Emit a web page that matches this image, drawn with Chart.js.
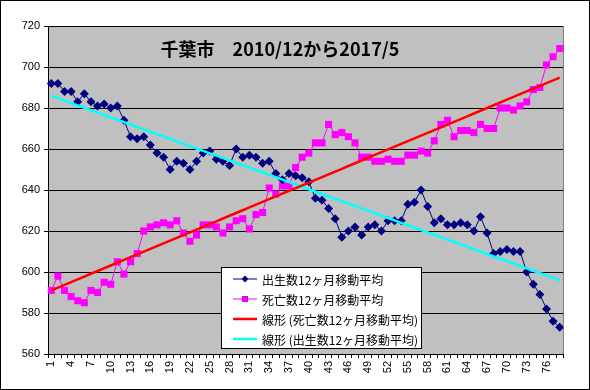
<!DOCTYPE html>
<html>
<head>
<meta charset="utf-8">
<script src="https://cdn.jsdelivr.net/npm/chart.js@4.4.1/dist/chart.umd.min.js"></script>
<style>
  html, body { margin: 0; padding: 0; background: #fff; }
  #wrap { width: 590px; height: 390px; position: relative; }
</style>
</head>
<body>
<div id="wrap"><canvas id="myChart"></canvas></div>
<script>
// months since 2010/12 (1..78)
var months = Array.from({ length: 78 }, function (_, i) { return String(i + 1); });

// 出生数12ヶ月移動平均
var births = [
  692, 692, 688, 688, 683, 687, 683, 681, 682, 680,
  681, 674, 666, 665, 666, 662, 658, 656, 650, 654,
  653, 650, 654, 658, 659, 655, 654, 652, 660, 656,
  657, 656, 653, 654, 648, 645, 648, 647, 646, 644,
  636, 635, 631, 626, 617, 620, 622, 618, 622, 623,
  620, 625, 625, 625, 633, 634, 640, 632, 624, 626,
  623, 623, 624, 623, 620, 627, 619, 609, 610, 611,
  610, 610, 600, 594, 589, 582, 576, 573
];

// 死亡数12ヶ月移動平均
var deaths = [
  591, 598, 591, 588, 586, 585, 591, 590, 595, 594,
  605, 599, 605, 609, 620, 622, 623, 624, 623, 625,
  619, 615, 618, 623, 623, 622, 619, 622, 625, 626,
  621, 628, 629, 641, 638, 642, 642, 651, 656, 658,
  663, 663, 672, 667, 668, 666, 663, 656, 656, 654,
  654, 655, 654, 654, 657, 657, 659, 658, 664, 672,
  674, 666, 669, 669, 668, 672, 670, 670, 680, 680,
  679, 681, 683, 689, 690, 701, 705, 709
];

var yMin = 560, yMax = 720, yStep = 20;

// linear trendline, like Excel's 線形近似
function linearTrend(values) {
  var n = values.length, sx = 0, sy = 0, sxy = 0, sxx = 0;
  for (var i = 0; i < n; i++) {
    var x = i + 1;
    sx += x; sy += values[i]; sxy += x * values[i]; sxx += x * x;
  }
  var slope = (n * sxy - sx * sy) / (n * sxx - sx * sx);
  var icpt = (sy - slope * sx) / n;
  return values.map(function (v, i) { return icpt + slope * (i + 1); });
}

var FONT = '"Liberation Sans", Arial, sans-serif';
var JFONT = '"Noto Sans CJK JP", sans-serif';

var frame = {
  id: 'frame',
  beforeDraw: function (chart) {
    var c = chart.ctx, a = chart.chartArea;
    c.save();
    c.fillStyle = '#fff';
    c.fillRect(0, 0, chart.width, chart.height);
    c.fillStyle = '#c0c0c0';
    c.fillRect(a.left, a.top, a.right - a.left, a.bottom - a.top);
    c.restore();
  },
  afterDraw: function (chart) {
    var c = chart.ctx, a = chart.chartArea;
    c.save();
    // plot area right edge
    c.strokeStyle = '#808080';
    c.lineWidth = 1;
    c.beginPath();
    c.moveTo(Math.round(a.right) + 0.5, a.top);
    c.lineTo(Math.round(a.right) + 0.5, a.bottom);
    c.stroke();
    // outer border
    c.strokeStyle = '#000';
    c.strokeRect(0.5, 0.5, chart.width - 1, chart.height - 1);

    // title
    c.fillStyle = '#000';
    c.font = 'bold 18px ' + JFONT;
    c.textAlign = 'center';
    c.textBaseline = 'alphabetic';
    c.fillText('千葉市　2010/12から2017/5', 280, 56);

    // legend box
    var bx = 221, by = 267, bw = 200, bh = 81;
    c.fillStyle = '#fff';
    c.fillRect(bx, by, bw, bh);
    c.strokeStyle = '#000';
    c.strokeRect(bx + 0.5, by + 0.5, bw, bh);
    c.font = '12px ' + JFONT;
    c.textAlign = 'left';
    c.textBaseline = 'middle';
    chart.data.datasets.forEach(function (ds, i) {
      var y = by + 12 + i * 20;
      c.strokeStyle = ds.borderColor;
      c.lineWidth = ds.borderWidth;
      c.beginPath();
      c.moveTo(233, y);
      c.lineTo(257, y);
      c.stroke();
      if (ds.pointRadius > 0) {
        Chart.helpers.drawPoint(c, {
          pointStyle: ds.pointStyle,
          radius: ds.pointRadius - 1,
          borderWidth: 0
        }, 245, y);
        c.fillStyle = ds.pointBackgroundColor;
        c.fill();
      }
      c.fillStyle = '#000';
      c.fillText(ds.label, 262, y + 1);
    });
    c.restore();
  }
};

var ctx = document.getElementById('myChart').getContext('2d');
var chart = new Chart(ctx, {
  type: 'line',
  data: {
    labels: months,
    datasets: [{
      label: '出生数12ヶ月移動平均',
      data: births,
      borderColor: '#000080',
      backgroundColor: '#000080',
      pointBackgroundColor: '#000080',
      pointBorderColor: '#000080',
      pointStyle: 'rectRot',
      pointRadius: 4.5,
      pointBorderWidth: 0,
      borderWidth: 1,
      tension: 0,
      order: 1
    }, {
      label: '死亡数12ヶ月移動平均',
      data: deaths,
      borderColor: '#ff00ff',
      backgroundColor: '#ff00ff',
      pointBackgroundColor: '#ff00ff',
      pointBorderColor: '#ff00ff',
      pointStyle: 'rect',
      pointRadius: 5,
      pointBorderWidth: 0,
      borderWidth: 1,
      tension: 0,
      order: 1
    }, {
      label: '線形 (死亡数12ヶ月移動平均)',
      data: linearTrend(deaths),
      borderColor: '#ff0000',
      borderWidth: 2.5,
      pointRadius: 0,
      tension: 0,
      order: 0
    }, {
      label: '線形 (出生数12ヶ月移動平均)',
      data: linearTrend(births),
      borderColor: '#00ffff',
      borderWidth: 2.5,
      pointRadius: 0,
      tension: 0,
      order: 0
    }]
  },
  options: {
    responsive: true,
    maintainAspectRatio: false,
    animation: false,
    layout: { padding: { left: 0, top: 26, right: 27, bottom: 0 } },
    plugins: {
      legend: { display: false },
      tooltip: { enabled: false }
    },
    scales: {
      x: {
        offset: true,
        grid: { drawOnChartArea: false, drawTicks: true, tickLength: 4, color: '#000', offset: true },
        border: { color: '#000', width: 1 },
        ticks: {
          autoSkip: false,
          maxRotation: 90,
          minRotation: 90,
          padding: 3,
          color: '#000',
          font: { family: FONT, size: 11 },
          callback: function (v, i) { return i % 3 === 0 ? months[i] : ''; }
        },
        afterFit: function (s) { s.height = 36; }
      },
      y: {
        min: yMin,
        max: yMax,
        grid: { color: '#000', lineWidth: 1, tickLength: 4, drawTicks: true },
        border: { color: '#000', width: 1 },
        ticks: {
          stepSize: yStep,
          padding: 4,
          color: '#000',
          font: { family: FONT, size: 11 }
        },
        afterFit: function (s) { s.width = 48; }
      }
    }
  },
  plugins: [frame]
});
</script>
</body>
</html>
